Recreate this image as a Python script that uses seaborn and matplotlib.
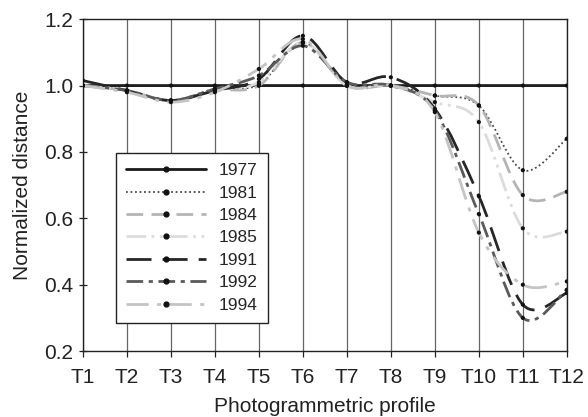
import pandas as pd
import numpy as np
import matplotlib.pyplot as plt
import seaborn as sns
from matplotlib.path import Path
from matplotlib.patches import PathPatch
from matplotlib.lines import Line2D

# Veriler
profiles = ["T1", "T2", "T3", "T4", "T5", "T6", "T7", "T8", "T9", "T10", "T11", "T12"]
years = ["1977", "1981", "1984", "1985", "1991", "1992", "1994"]
v1977 = [1.0, 1.0, 1.0, 1.0, 1.0, 1.0, 1.0, 1.0, 1.0, 1.0, 1.0, 1.0]
v1981 = [1.0, 0.985, 0.955, 0.99, 1.003, 1.13, 1.0, 1.0, 0.97, 0.94, 0.745, 0.84]
v1984 = [1.0, 0.985, 0.955, 0.985, 1.0, 1.13, 1.0, 1.0, 0.97, 0.94, 0.67, 0.68]
v1985 = [1.0, 0.985, 0.955, 0.985, 1.01, 1.13, 1.0, 1.0, 0.95, 0.89, 0.57, 0.56]
v1991 = [1.015, 0.985, 0.955, 0.985, 1.02, 1.15, 1.01, 1.025, 0.93, 0.667, 0.34, 0.375]
v1992 = [1.0, 0.985, 0.955, 0.99, 1.03, 1.12, 1.01, 1.0, 0.925, 0.613, 0.30, 0.385]
v1994 = [1.0, 0.98, 0.95, 0.98, 1.05, 1.14, 1.0, 1.0, 0.92, 0.557, 0.40, 0.41]
values = [v1977, v1981, v1984, v1985, v1991, v1992, v1994]

# Çizgi stilleri
colors = ["#1a1a1a", "#4a4a4a", "#b4b4b4", "#dcdcdc", "#262626", "#5a5a5a", "#c4c4c4"]
dashes = ["solid", (0, (1, 1.5)), (0, (6, 3)), (0, (7, 2, 1, 2, 1, 2)),
          (0, (9, 4)), (0, (6, 2, 1.5, 2)), (0, (8, 3, 1.5, 3))]
widths = [2.0, 1.3, 2.0, 2.0, 2.0, 2.0, 2.0]

x = np.arange(1, len(profiles) + 1)
rows = []
for yil, vals in zip(years, values):
    for xi, v in zip(x, vals):
        rows.append({"yil": yil, "profil": xi, "deger": v})
veri = pd.DataFrame(rows)

sns.set_style("white")
plt.rcParams["font.family"] = ["Liberation Sans", "DejaVu Sans"]

fig, ax = plt.subplots(figsize=(5.88, 4.17), dpi=100)
fig.subplots_adjust(left=0.141, right=0.964, top=0.954, bottom=0.158)


def smooth_path(xs, ys):
    # Excel tarzı yumuşatılmış çizgi (Catmull-Rom -> Bezier)
    p = np.column_stack([xs, ys]).astype(float)
    ext = np.vstack([p[0], p, p[-1]])
    verts = [p[0]]
    codes = [Path.MOVETO]
    for i in range(len(p) - 1):
        p0, p1, p2, p3 = ext[i], ext[i + 1], ext[i + 2], ext[i + 3]
        verts += [p1 + (p2 - p0) / 6, p2 - (p3 - p1) / 6, p2]
        codes += [Path.CURVE4] * 3
    return Path(verts, codes)


for i in range(len(x)):
    ax.axvline(x[i], color="#666666", lw=0.9, zorder=0)

for yil, c, d, w in zip(years, colors, dashes, widths):
    alt = veri[veri["yil"] == yil]
    ax.add_patch(PathPatch(smooth_path(alt["profil"], alt["deger"]), fill=False,
                           edgecolor=c, lw=w, linestyle=d, zorder=2))

sns.scatterplot(data=veri, x="profil", y="deger", color="#111111", s=9,
                edgecolor="none", ax=ax, zorder=3, legend=False)

ax.set_xlim(1, 12)
ax.set_ylim(0.2, 1.2)
ax.set_xticks(x)
ax.set_xticklabels(profiles)
ax.set_yticks([0.2, 0.4, 0.6, 0.8, 1.0, 1.2])
ax.set_yticklabels(["0.2", "0.4", "0.6", "0.8", "1.0", "1.2"])
ax.tick_params(axis="both", labelsize=15, colors="#222222", width=0.9)
ax.tick_params(axis="y", length=6, direction="inout", left=True, pad=4)
ax.tick_params(axis="x", length=4, direction="out", bottom=True, pad=8)
ax.set_xlabel("Photogrammetric profile", fontsize=15, color="#222222", labelpad=7)
ax.set_ylabel("Normalized distance", fontsize=15, color="#222222", labelpad=9)
for s in ax.spines.values():
    s.set_color("#222222")
    s.set_linewidth(1.0)

handles = [Line2D([0], [0], color=c, lw=w, linestyle=d, marker="o", markersize=3.5,
                  markerfacecolor="#111111", markeredgecolor="#111111")
           for c, d, w in zip(colors, dashes, widths)]
leg = ax.legend(handles, years, loc="lower left", bbox_to_anchor=(0.068, 0.084),
                borderaxespad=0, fontsize=12.5, frameon=True, fancybox=False,
                handlelength=4.6, borderpad=0.6, labelspacing=0.42,
                handletextpad=0.7)
leg.get_frame().set_edgecolor("#222222")
leg.get_frame().set_linewidth(1.0)
leg.get_frame().set_alpha(1)

plt.savefig("out.png", dpi=100)
